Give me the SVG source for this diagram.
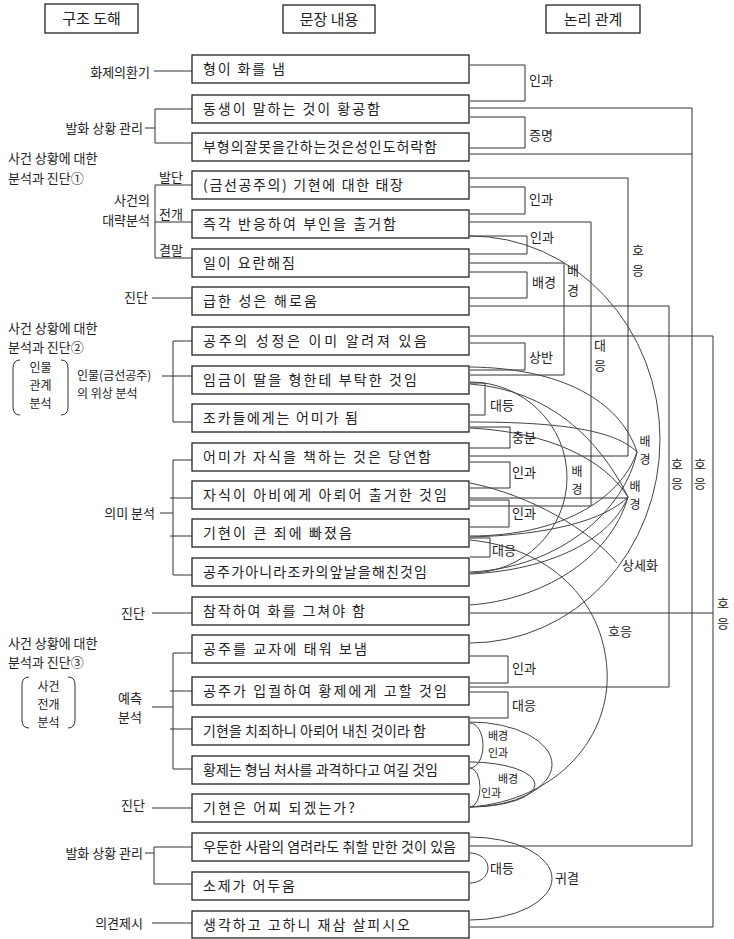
<svg xmlns="http://www.w3.org/2000/svg" width="734" height="939" viewBox="0 0 734 939">
<style>
.bg{fill:#fff}
.box{fill:#fff;stroke:#222;stroke-width:1.3}
.t{font-family:"Noto Sans CJK KR","Noto Sans",sans-serif;font-size:14px;fill:#222}
.h{font-size:15px;text-anchor:middle}
.l{font-size:13px}
.p{font-size:12px}
.s{font-size:11px}
.m{text-anchor:middle}
.e{text-anchor:end}
.c{fill:none;stroke:#333;stroke-width:1}
.cv{fill:none;stroke:#444;stroke-width:1}
</style>
<rect class="bg" x="0" y="0" width="734" height="939"/>

<g id="headers">
<rect class="box" x="45" y="4" width="93" height="29"/>
<text class="t h" x="91.5" y="24">구조 도해</text>
<rect class="box" x="283" y="5" width="92" height="28"/>
<text class="t h" x="329" y="25">문장 내용</text>
<rect class="box" x="546" y="5" width="94" height="28"/>
<text class="t h" x="593" y="25">논리 관계</text>
</g>

<g id="structure">
<text class="t l e" x="150" y="77">화제의환기</text>
<text class="t l e" x="143" y="133">발화 상황 관리</text>
<text class="t l" x="8" y="163">사건 상황에 대한</text>
<text class="t l" x="8" y="183">분석과 진단①</text>
<text class="t l e" x="150" y="205">사건의</text>
<text class="t l e" x="150" y="225">대략분석</text>
<text class="t l" x="159" y="182">발단</text>
<text class="t l" x="159" y="219">전개</text>
<text class="t l" x="159" y="255">결말</text>
<text class="t l e" x="148" y="302">진단</text>
<text class="t l" x="8" y="333">사건 상황에 대한</text>
<text class="t l" x="8" y="352">분석과 진단②</text>
<path class="c" d="M20,360 Q13,360 13,368 V407 Q13,415 20,415 M61,360 Q68,360 68,368 V407 Q68,415 61,415"/>
<text class="t p m" x="40.5" y="372">인물</text>
<text class="t p m" x="40.5" y="390">관계</text>
<text class="t p m" x="40.5" y="408">분석</text>
<text class="t p" x="77" y="380">인물(금선공주)</text>
<text class="t p" x="77" y="398">의 위상 분석</text>
<text class="t l e" x="155" y="518">의미 분석</text>
<text class="t l e" x="145" y="618">진단</text>
<text class="t l" x="8" y="648">사건 상황에 대한</text>
<text class="t l" x="8" y="667">분석과 진단③</text>
<path class="c" d="M29,677 Q22,677 22,685 V720 Q22,728 29,728 M68,677 Q75,677 75,685 V720 Q75,728 68,728"/>
<text class="t p m" x="48.5" y="691">사건</text>
<text class="t p m" x="48.5" y="709">전개</text>
<text class="t p m" x="48.5" y="727">분석</text>
<text class="t l" x="118" y="703">예측</text>
<text class="t l" x="118" y="722">분석</text>
<text class="t l e" x="145" y="810">진단</text>
<text class="t l e" x="143" y="858">발화 상황 관리</text>
<text class="t l e" x="143" y="928">의견제시</text>
<path class="c" d="M154,71 H192 M145,128 H155 M192,109 H155 V143 H192 M192,185 H155 V258 H192 M155,222 H192 M152,298 H192 M162,376 H192 M192,341 H173 V422 H192 M160,513 H173 M192,460 H173 V575 H192 M170,498 H192 M170,536 H192 M152,613 H192 M152,707 H173 M192,653 H173 V769 H192 M170,691 H192 M170,729 H192 M152,808 H192 M145,853 H154 M192,847 H154 V884 H192 M152,923 H192"/>
</g>

<g id="n1"><rect class="box" x="192" y="55" width="277" height="28"/><text class="t" x="203" y="74" textLength="82">형이 화를 냄</text></g>
<g id="n2"><rect class="box" x="192" y="95" width="277" height="28"/><text class="t" x="203" y="114" textLength="177">동생이 말하는 것이 황공함</text></g>
<g id="n3"><rect class="box" x="192" y="133" width="277" height="28"/><text class="t" x="203" y="152" textLength="234">부형의잘못을간하는것은성인도허락함</text></g>
<g id="n4"><rect class="box" x="192" y="171" width="277" height="28"/><text class="t" x="203" y="190" textLength="200">(금선공주의) 기현에 대한 태장</text></g>
<g id="n5"><rect class="box" x="192" y="210" width="277" height="28"/><text class="t" x="203" y="229" textLength="193">즉각 반응하여 부인을 출거함</text></g>
<g id="n6"><rect class="box" x="192" y="249" width="277" height="28"/><text class="t" x="203" y="268" textLength="92">일이 요란해짐</text></g>
<g id="n7"><rect class="box" x="192" y="287" width="277" height="28"/><text class="t" x="203" y="306" textLength="114">급한 성은 해로움</text></g>
<g id="n8"><rect class="box" x="192" y="327" width="277" height="28"/><text class="t" x="203" y="346" textLength="224">공주의 성정은 이미 알려져 있음</text></g>
<g id="n9"><rect class="box" x="192" y="366" width="277" height="28"/><text class="t" x="203" y="385" textLength="214">임금이 딸을 형한테 부탁한 것임</text></g>
<g id="n10"><rect class="box" x="192" y="404" width="277" height="28"/><text class="t" x="203" y="423" textLength="155">조카들에게는 어미가 됨</text></g>
<g id="n11"><rect class="box" x="192" y="443" width="277" height="28"/><text class="t" x="203" y="462" textLength="228">어미가 자식을 책하는 것은 당연함</text></g>
<g id="n12"><rect class="box" x="192" y="481" width="277" height="28"/><text class="t" x="203" y="500" textLength="244">자식이 아비에게 아뢰어 출거한 것임</text></g>
<g id="n13"><rect class="box" x="192" y="519" width="277" height="28"/><text class="t" x="203" y="538" textLength="149">기현이 큰 죄에 빠졌음</text></g>
<g id="n14"><rect class="box" x="192" y="558" width="277" height="28"/><text class="t" x="203" y="577" textLength="224">공주가아니라조카의앞날을해친것임</text></g>
<g id="n15"><rect class="box" x="192" y="597" width="277" height="28"/><text class="t" x="203" y="616" textLength="162">참작하여 화를 그쳐야 함</text></g>
<g id="n16"><rect class="box" x="192" y="635" width="277" height="28"/><text class="t" x="203" y="654" textLength="164">공주를 교자에 태워 보냄</text></g>
<g id="n17"><rect class="box" x="192" y="677" width="277" height="28"/><text class="t" x="203" y="696" textLength="244">공주가 입궐하여 황제에게 고할 것임</text></g>
<g id="n18"><rect class="box" x="192" y="717" width="277" height="28"/><text class="t" x="203" y="736" textLength="223">기현을 치죄하니 아뢰어 내친 것이라 함</text></g>
<g id="n19"><rect class="box" x="192" y="756" width="277" height="28"/><text class="t" x="203" y="775" textLength="235">황제는 형님 처사를 과격하다고 여길 것임</text></g>
<g id="n20"><rect class="box" x="192" y="794" width="277" height="28"/><text class="t" x="203" y="813" textLength="152">기현은 어찌 되겠는가?</text></g>
<g id="n21"><rect class="box" x="192" y="833" width="277" height="28"/><text class="t" x="203" y="852" textLength="253">우둔한 사람의 염려라도 취할 만한 것이 있음</text></g>
<g id="n22"><rect class="box" x="192" y="872" width="277" height="28"/><text class="t" x="203" y="891" textLength="92">소제가 어두움</text></g>
<g id="n23"><rect class="box" x="192" y="911" width="277" height="27"/><text class="t" x="203" y="930" textLength="207">생각하고 고하니 재삼 살피시오</text></g>

<g id="connectors">
<path class="c" d="M470,65 H525 V101 H470 M470,117 H525 V148 H470 M470,187 H525 V214 H470 M470,236 H527 V254 H470 M470,272 H527 V298 H470 M470,343 H525 V370 H470 M470,383 H485 V415 H470 M470,427 H510 V448 H470 M470,462 H510 V488 H470 M470,500 H509 V527 H470 M470,538 H490 V557 H470 M470,656 H508 V683 H470 M470,692 H508 V718 H470"/>
<path class="c" d="M470,108 H692 V846 H470 M470,154 H692 M470,178 H628 V456 H470 M470,222 H591 V506 H470 M470,263 H564 V375 H470 M470,306 H669 V687 H470 M470,336 H713 V927 H470 M470,613 H713 M470,498 H628"/>
<path class="cv" d="M470,236 A190,203.5 0 0 1 470,643"/>
<path class="cv" d="M470,540 C550,548 603,600 607,670 C611,735 560,800 470,807"/>
<path class="cv" d="M470,382 A97,95.5 0 0 1 470,573"/>
<path class="cv" d="M470,483 C530,495 590,530 617,563"/>
<path class="cv" d="M470,367 C560,368 620,400 637,452 M470,422 C560,422 615,430 637,452 M470,536 C560,536 620,500 637,452 M470,572 C560,568 625,510 637,452"/>
<path class="cv" d="M470,384 C550,390 600,440 628,497 M470,428 C550,432 605,460 628,497 M470,537 C550,535 605,520 628,497 M470,574 C550,570 610,540 628,497 M470,605 C540,600 610,560 628,497"/>
<path class="cv" d="M470,723 A13,22.5 0 0 1 470,768 M470,722 A82,42.5 0 0 1 470,807 M470,768 A10,19.5 0 0 1 470,807 M470,762 A65,22.5 0 0 1 470,807"/>
<path class="cv" d="M470,853 A18,15 0 0 1 470,883 M470,837 A82,41.5 0 0 1 470,920"/>
</g>

<g id="labels">
<text class="t l" x="529" y="85">인과</text>
<text class="t l" x="529" y="140">증명</text>
<text class="t l" x="529" y="204">인과</text>
<text class="t l" x="530" y="242">인과</text>
<text class="t l" x="532" y="287">배경</text>
<text class="t l" x="529" y="362">상반</text>
<text class="t l" x="490" y="410">대등</text>
<text class="t l" x="512" y="442">충분</text>
<text class="t l" x="512" y="477">인과</text>
<text class="t l" x="512" y="518">인과</text>
<text class="t l" x="492" y="555">대응</text>
<text class="t l" x="512" y="673">인과</text>
<text class="t l" x="512" y="710">대응</text>
<text class="t l m" x="638" y="255">호</text><text class="t l m" x="638" y="275">응</text>
<text class="t l m" x="573" y="275">배</text><text class="t l m" x="573" y="295">경</text>
<text class="t l m" x="600" y="350">대</text><text class="t l m" x="600" y="370">응</text>
<text class="t p m" x="645" y="446">배</text><text class="t p m" x="645" y="464">경</text>
<text class="t p m" x="577" y="476">배</text><text class="t p m" x="577" y="494">경</text>
<text class="t p m" x="635" y="491">배</text><text class="t p m" x="635" y="509">경</text>
<text class="t l m" x="677" y="469">호</text><text class="t l m" x="677" y="488">응</text>
<text class="t l m" x="700" y="469">호</text><text class="t l m" x="700" y="488">응</text>
<text class="t l m" x="723" y="608">호</text><text class="t l m" x="723" y="628">응</text>
<text class="t l" x="622" y="570">상세화</text>
<text class="t l" x="608" y="636">호응</text>
<text class="t s" x="488" y="740">배경</text>
<text class="t s" x="488" y="757">인과</text>
<text class="t s" x="498" y="783">배경</text>
<text class="t s" x="481" y="797">인과</text>
<text class="t l" x="490" y="873">대등</text>
<text class="t l" x="555" y="883">귀결</text>
</g>
</svg>
